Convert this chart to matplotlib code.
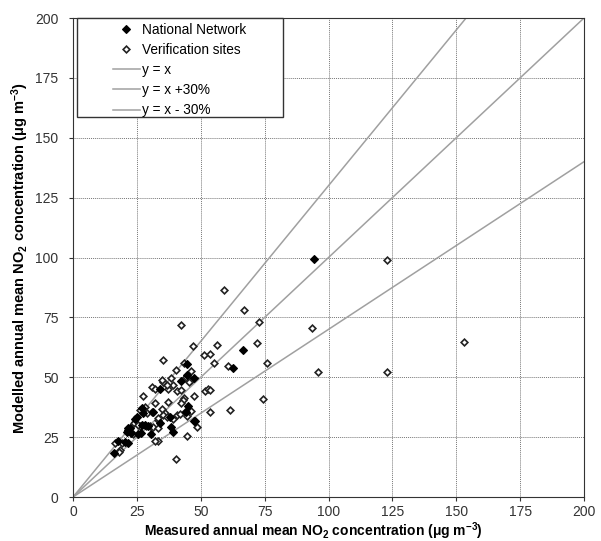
import numpy as np
import matplotlib
matplotlib.use("Agg")
import matplotlib.pyplot as plt
from matplotlib.patches import Rectangle

plt.rcParams['font.family'] = ['Liberation Sans', 'DejaVu Sans']
plt.rcParams['mathtext.fontset'] = 'custom'
plt.rcParams['mathtext.rm'] = 'Liberation Sans:bold'
plt.rcParams['mathtext.it'] = 'Liberation Sans:bold'
plt.rcParams['mathtext.default'] = 'rm'

# National Network (filled diamonds): measured, modelled
national_x = [94.3, 66.4, 62.5, 44.5, 44.5, 47.4, 42.3, 34.0, 45.1, 47.7, 38.0, 27.3, 25.2,
              31.4, 34.0, 21.7, 26.9, 24.3, 26.9, 28.2, 29.5, 30.5, 26.6, 25.6, 22.3, 21.7,
              21.0, 22.7, 38.4, 39.3, 20.4, 21.4, 17.7, 16.2, 44.2, 47.5]
national_y = [99.5, 61.5, 54.0, 55.7, 50.8, 49.9, 48.5, 44.9, 38.0, 31.7, 33.5, 34.9, 33.5,
              35.6, 30.7, 28.9, 37.0, 32.4, 30.0, 30.0, 29.6, 26.5, 26.8, 26.5, 29.0, 27.9,
              27.2, 26.8, 29.3, 27.0, 23.0, 22.4, 23.5, 18.5, 35.6, 31.8]

# Verification sites (open diamonds)
verif_x = [122.8, 67.1, 72.8, 93.4, 71.9, 153.2, 75.8, 95.8, 122.9, 74.5,
           59.2, 46.8, 56.5, 51.3, 53.5, 55.3, 60.8, 46.0, 46.0, 45.4, 47.4, 51.7, 52.7, 53.6,
           42.3, 35.1, 40.3, 38.4, 35.4, 39.3, 37.1, 40.6, 30.8, 32.1, 42.3, 27.3, 43.6, 43.5,
           44.2, 34.7, 36.7,
           53.6, 61.4, 32.1, 34.7, 37.3, 43.2, 40.6, 43.8, 44.5, 46.2, 48.4, 39.0, 28.2, 26.2,
           24.3, 29.1, 33.1, 36.0, 26.2, 28.6, 30.1,
           42.3, 30.8, 33.4, 35.3, 36.7, 41.9, 24.0, 25.6, 31.4, 33.4, 23.6, 33.4, 19.3, 18.4,
           40.5, 44.5, 16.4, 18.0, 32.1]
verif_y = [98.8, 77.9, 72.9, 70.5, 64.2, 64.7, 56.0, 52.4, 52.4, 40.8,
           86.5, 62.9, 63.3, 59.3, 59.9, 56.0, 54.6, 52.6, 49.0, 48.0, 42.0, 44.3, 45.0, 44.6,
           71.7, 57.1, 52.9, 49.9, 48.0, 46.9, 44.9, 44.3, 46.0, 45.0, 44.6, 42.1, 41.5, 56.0,
           50.1, 49.0, 46.7,
           35.6, 36.5, 39.3, 36.8, 39.7, 40.4, 34.4, 35.6, 33.9, 35.8, 29.3, 32.4, 37.4, 36.5,
           31.4, 34.9, 32.1, 34.9, 29.6, 29.7, 29.6,
           39.3, 35.6, 32.8, 34.2, 33.5, 34.6, 30.7, 30.0, 29.3, 29.0, 26.5, 23.3, 22.4, 19.6,
           15.8, 25.4, 22.6, 18.9, 23.5]

ticks = [0, 25, 50, 75, 100, 125, 150, 175, 200]

fig = plt.figure(figsize=(6.01, 5.41), dpi=100)
ax = fig.add_axes([0.1215, 0.0813, 0.8502, 0.8854])

line_x = np.array([0, 200])
ax.plot(line_x, line_x, color='#a0a0a0', lw=1.1, label='y = x', zorder=2)
ax.plot(line_x, line_x * 1.3, color='#a0a0a0', lw=1.1, label='y = x +30%', zorder=2)
ax.plot(line_x, line_x * 0.7, color='#a0a0a0', lw=1.1, label='y = x - 30%', zorder=2)

ax.plot(verif_x, verif_y, 'D', ms=3.4, mfc='white', mec='#222222', mew=1.2,
        label='Verification sites', zorder=3)
ax.plot(national_x, national_y, 'D', ms=3.6, mfc='black', mec='black', mew=0.8,
        label='National Network', zorder=4)

ax.set_xlim(0, 200)
ax.set_ylim(0, 200)
ax.set_xticks(ticks)
ax.set_yticks(ticks)
ax.tick_params(labelsize=10, colors='#333333', length=3, direction='out')
ax.tick_params(axis='x', pad=3)
ax.tick_params(axis='y', pad=7.5)
ax.grid(True, color='#777777', linestyle=(0, (1, 1)), linewidth=0.7)
ax.set_axisbelow(True)
for s in ax.spines.values():
    s.set_color('#333333')

ax.set_xlabel(r'Measured annual mean NO$_2$ concentration ($\mathregular{\mu}$g m$^{-3}$)',
              fontsize=10, fontweight='bold')
ax.xaxis.set_label_coords(0.47, -0.048)
ax.set_ylabel(r'Modelled annual mean NO$_2$ concentration ($\mathregular{\mu}$g m$^{-3}$)',
              fontsize=10.5, fontweight='bold', labelpad=3)

# legend box drawn by hand, entries placed inside
ax.add_patch(Rectangle((0.008, 0.793), 0.403, 0.207, transform=ax.transAxes,
                       facecolor='white', edgecolor='#333333', lw=1.0, zorder=5,
                       clip_on=False))
handles, labels = ax.get_legend_handles_labels()
order = [4, 3, 0, 1, 2]
leg = ax.legend([handles[i] for i in order], [labels[i] for i in order],
                loc='upper left', bbox_to_anchor=(0.078, 0.99), borderaxespad=0,
                borderpad=0, fontsize=9.8, frameon=False, handlelength=2.0,
                handletextpad=0.15, labelspacing=0.45)
leg.set_zorder(6)

fig.savefig('out.png', dpi=100)
